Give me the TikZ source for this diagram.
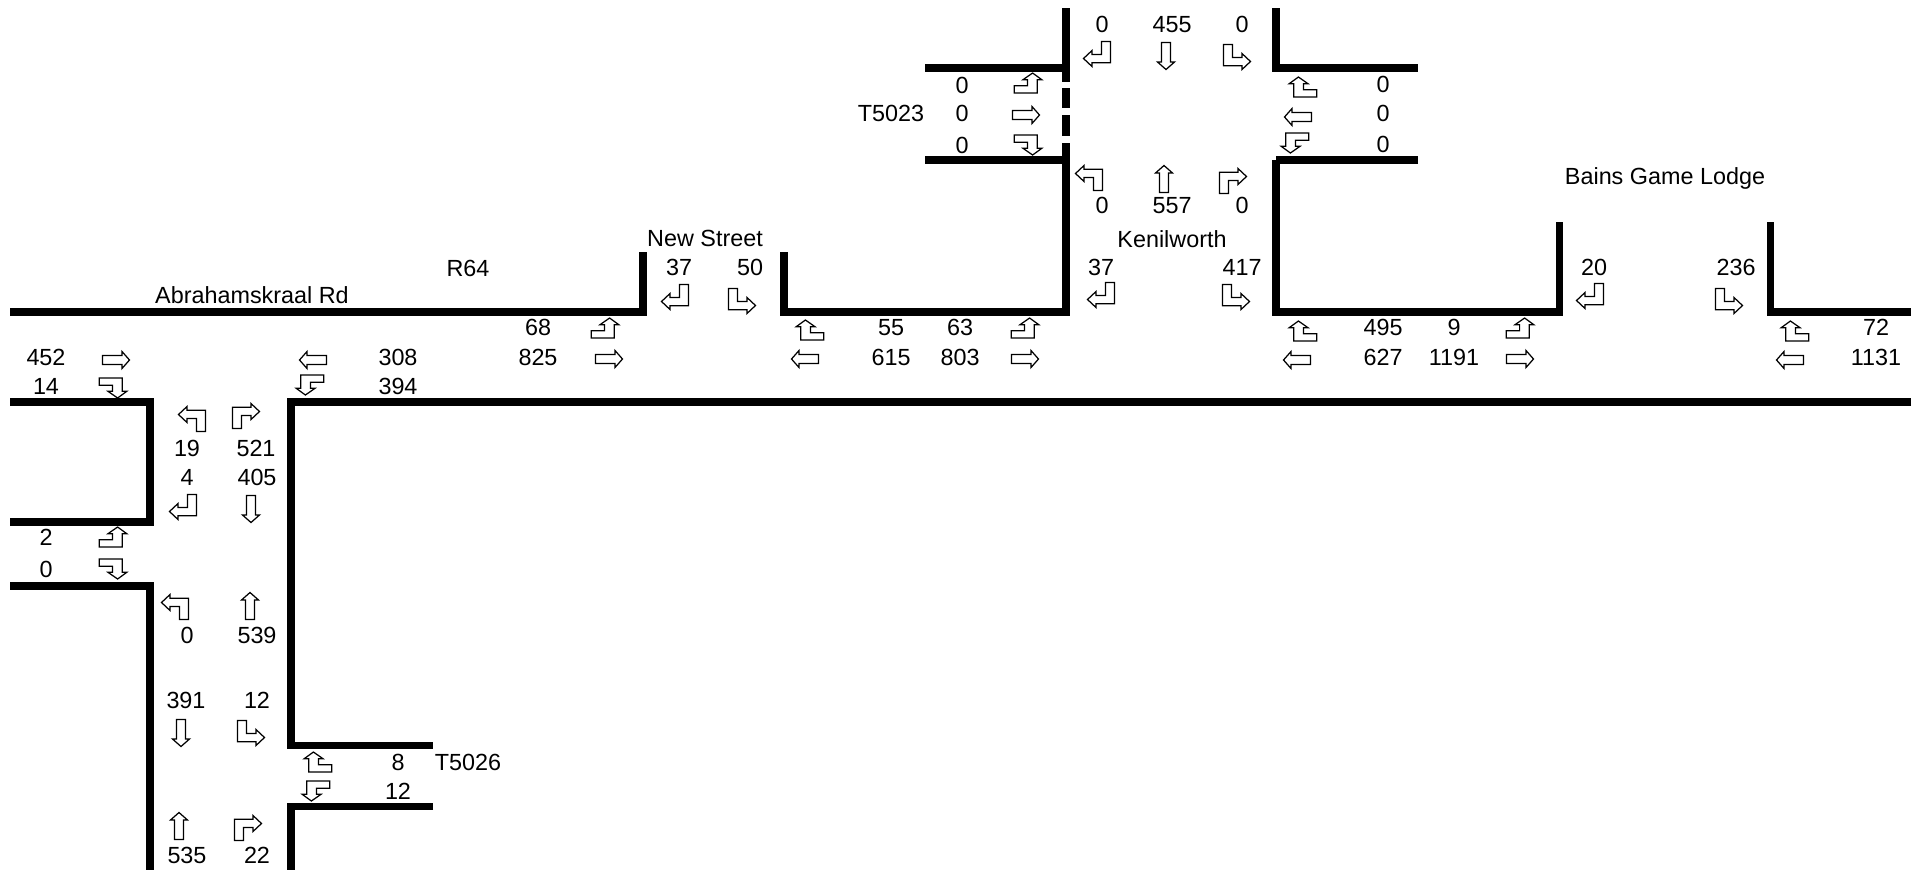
\documentclass[tikz,border=0pt]{standalone}
\usepackage{fontspec}
\setmainfont{Liberation Sans}
\tikzset{
  road/.style={line width=4pt},
  lane/.style={draw=black,fill=white,line width=0.7pt,line join=miter},
  vol/.style={inner sep=0pt,text height=9.5pt,text depth=0pt,font=\fontsize{13.3}{16}\selectfont},
  thru/.pic={\draw[lane] (-13.5,-4.5) -- (6,-4.5) -- (6,-8.5) -- (13.5,0) -- (6,8.5) -- (6,4.5) -- (-13.5,4.5) -- cycle;},
  turnR/.pic={\draw[lane] (-13.5,-12.5) -- (-4.5,-12.5) -- (-4.5,0.5) -- (5,0.5) -- (5,-3.5) -- (13.5,4.5) -- (5,12.5) -- (5,8.7) -- (-13.5,8.7) -- cycle;},
  turnL/.pic={\draw[lane,xscale=-1] (-13.5,-12.5) -- (-4.5,-12.5) -- (-4.5,0.5) -- (5,0.5) -- (5,-3.5) -- (13.5,4.5) -- (5,12.5) -- (5,8.7) -- (-13.5,8.7) -- cycle;},
  turnU/.pic={\draw[lane] (-13.8,10) -- (-13.8,2.7) -- (-0.4,2.7) -- (-0.4,-3.3) -- (-5,-3.3) -- (4.6,-10) -- (13.8,-3.3) -- (9.2,-3.3) -- (9.2,10) -- cycle;}
}
\begin{document}
\begin{tikzpicture}[x=0.02cm,y=-0.02cm]
  \useasboundingbox (0,0) rectangle (1921,870);
  % kerb lines
  \draw[road] (10,312) -- (643,312) -- (643,252);
  \draw[road] (784,252) -- (784,312) -- (1066,312) -- (1066,160);
  \draw[road] (1276,160) -- (1276,312) -- (1559,312) -- (1559,222);
  \draw[road] (1770,222) -- (1770,312) -- (1911,312);
  \draw[road] (1066,8) -- (1066,68) (925,68) -- (1070,68) (925,160) -- (1070,160);
  \draw[road] (1066,68) -- (1066,82) (1066,88) -- (1066,108) (1066,115) -- (1066,136) (1066,143) -- (1066,160);
  \draw[road] (1276,8) -- (1276,68) -- (1418,68);
  \draw[road] (1418,160) -- (1276,160);
  \draw[road] (10,402) -- (150,402) -- (150,522) -- (10,522);
  \draw[road] (10,586) -- (150,586) -- (150,870);
  \draw[road] (1911,402) -- (291,402) -- (291,745) -- (433,745);
  \draw[road] (433,806) -- (291,806) -- (291,870);
  % Kenilworth / T5023
  \node[vol] (tN1) at (1102,24) {0};
  \node[vol] (tN2) at (1172,24) {455};
  \node[vol] (tN3) at (1242,24) {0};
  \pic at (1097,54) {turnL};
  \pic[rotate=-90] at (1166,56) {thru};
  \pic at (1237,57) {turnR};
  \pic[xscale=-1] at (1303,87) {turnU};
  \pic[rotate=180] at (1298,117) {thru};
  \pic[rotate=180] at (1295,143) {turnU};
  \node[vol] (tE1) at (1383,84) {0};
  \node[vol] (tE2) at (1383,113) {0};
  \node[vol] (tE3) at (1383,144) {0};
  \pic at (1028,83) {turnU};
  \pic at (1026,115) {thru};
  \pic[yscale=-1] at (1028,145) {turnU};
  \node[vol] (tW1) at (962,85) {0};
  \node[vol] (tW2) at (962,113) {0};
  \node[vol] (tW3) at (962,145) {0};
  \node[vol] (t5023) at (891,113) {T5023};
  \pic[rotate=180] at (1089,178) {turnR};
  \pic[rotate=90] at (1164,179) {thru};
  \pic[rotate=180] at (1233,181) {turnL};
  \node[vol] (tS1) at (1102,205) {0};
  \node[vol] (tS2) at (1172,205) {557};
  \node[vol] (tS3) at (1242,205) {0};
  % names
  \node[vol] (kenilworth) at (1172,239) {Kenilworth};
  \node[vol] (bains) at (1665,176) {Bains Game Lodge};
  \node[vol] (newst) at (705,238) {New Street};
  \node[vol] (r64) at (468,268) {R64};
  \node[vol] (abraham) at (252,295) {Abrahamskraal Rd};
  % side roads on the north
  \node[vol] (nK1) at (1101,267) {37};
  \node[vol] (nK2) at (1242,267) {417};
  \pic at (1101,295) {turnL};
  \pic at (1236,297) {turnR};
  \node[vol] (nS1) at (679,267) {37};
  \node[vol] (nS2) at (750,267) {50};
  \pic at (675,297) {turnL};
  \pic at (742,301) {turnR};
  \node[vol] (nB1) at (1594,267) {20};
  \node[vol] (nB2) at (1736,267) {236};
  \pic at (1590,296) {turnL};
  \pic at (1729,301) {turnR};
  % R64
  \node[vol] (a68) at (538,327) {68};
  \node[vol] (a825) at (538,357) {825};
  \pic at (605,328) {turnU};
  \pic at (609,359) {thru};
  \pic[xscale=-1] at (810,330) {turnU};
  \pic[rotate=180] at (805,359) {thru};
  \node[vol] (a55) at (891,327) {55};
  \node[vol] (a615) at (891,357) {615};
  \node[vol] (a63) at (960,327) {63};
  \node[vol] (a803) at (960,357) {803};
  \pic at (1025,328) {turnU};
  \pic at (1025,359) {thru};
  \pic[xscale=-1] at (1303,331) {turnU};
  \pic[rotate=180] at (1297,360) {thru};
  \node[vol] (a495) at (1383,327) {495};
  \node[vol] (a627) at (1383,357) {627};
  \node[vol] (a9) at (1454,327) {9};
  \node[vol] (a1191) at (1454,357) {1191};
  \pic at (1520,328) {turnU};
  \pic at (1520,359) {thru};
  \pic[xscale=-1] at (1795,331) {turnU};
  \pic[rotate=180] at (1790,360) {thru};
  \node[vol] (a72) at (1876,327) {72};
  \node[vol] (a1131) at (1876,357) {1131};
  % Abrahamskraal Rd junction
  \node[vol] (b452) at (46,357) {452};
  \node[vol] (b14) at (46,386) {14};
  \pic at (116,360) {thru};
  \pic[yscale=-1] at (113,388) {turnU};
  \pic[rotate=180] at (313,360) {thru};
  \pic[rotate=180] at (310,385) {turnU};
  \node[vol] (b308) at (398,357) {308};
  \node[vol] (b394) at (398,386) {394};
  \pic[rotate=180] at (192,419) {turnR};
  \pic[rotate=180] at (246,416) {turnL};
  \node[vol] (b19) at (187,448) {19};
  \node[vol] (b521) at (256,448) {521};
  \node[vol] (b4) at (187,477) {4};
  \node[vol] (b405) at (257,477) {405};
  \pic at (183,507) {turnL};
  \pic[rotate=-90] at (251,509) {thru};
  \node[vol] (c2) at (46,537) {2};
  \node[vol] (c0) at (46,569) {0};
  \pic at (113,537) {turnU};
  \pic[yscale=-1] at (113,569) {turnU};
  \pic[rotate=180] at (175,607) {turnR};
  \pic[rotate=90] at (250,606) {thru};
  \node[vol] (c00) at (187,635) {0};
  \node[vol] (c539) at (257,635) {539};
  % T5026
  \node[vol] (d391) at (186,700) {391};
  \node[vol] (d12) at (257,700) {12};
  \pic[rotate=-90] at (181,733) {thru};
  \pic at (251,733) {turnR};
  \pic[xscale=-1] at (318,762) {turnU};
  \pic[rotate=180] at (316,791) {turnU};
  \node[vol] (d8) at (398,762) {8};
  \node[vol] (d122) at (398,791) {12};
  \node[vol] (t5026) at (468,762) {T5026};
  \pic[rotate=90] at (179,826) {thru};
  \pic[rotate=180] at (248,828) {turnL};
  \node[vol] (d535) at (187,855) {535};
  \node[vol] (d22) at (257,855) {22};
\end{tikzpicture}
\end{document}
